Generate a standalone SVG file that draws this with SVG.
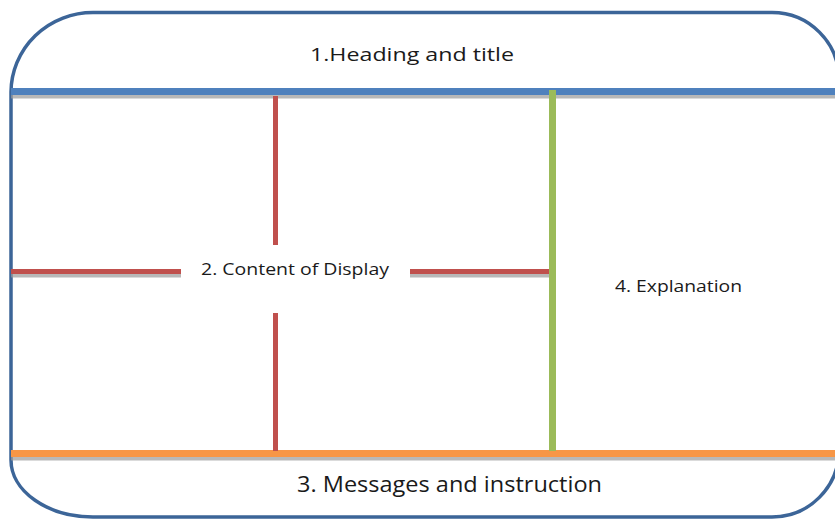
<svg xmlns="http://www.w3.org/2000/svg" width="835" height="520" viewBox="0 0 835 520">
<style>
.lbl{font-family:"Open Sans","Liberation Sans",sans-serif;fill:#1a1a1a;text-anchor:start}
.sh{stroke:#9a9a9a;stroke-opacity:0.7;fill:none}
.blue{stroke:#4f81bd;fill:none}
.orange{stroke:#f79646;fill:none}
.green{stroke:#9bbb59;fill:none}
.red{stroke:#c0504d;fill:none}
</style>
<rect width="835" height="520" fill="#ffffff"/>
<g id="frame">
<path d="M 93 12.5 H 772 A 67 67 0 0 1 839 79.5 V 450 A 67 67 0 0 1 772 517 H 93 A 82 57 0 0 1 11 460 V 92 A 82 80 0 0 1 93 12.5 Z" fill="none" stroke="#3c6598" stroke-width="3.5"/>
</g>
<g id="connectors">
<line class="sh" x1="11" y1="95" x2="835" y2="95" stroke-width="7"/>
<line class="blue" x1="11" y1="91.5" x2="835" y2="91.5" stroke-width="7"/>
<line class="sh" x1="11" y1="457" x2="835" y2="457" stroke-width="7"/>
<line class="orange" x1="11" y1="453.5" x2="835" y2="453.5" stroke-width="7"/>
<line class="sh" x1="11" y1="275" x2="181" y2="275" stroke-width="5"/>
<line class="red" x1="11" y1="271.5" x2="181" y2="271.5" stroke-width="5"/>
<line class="sh" x1="410" y1="275" x2="550" y2="275" stroke-width="5"/>
<line class="red" x1="410" y1="271.5" x2="550" y2="271.5" stroke-width="5"/>
<line class="red" x1="275.5" y1="96" x2="275.5" y2="245" stroke-width="5"/>
<line class="red" x1="275.5" y1="313" x2="275.5" y2="451" stroke-width="5"/>
<line class="green" x1="552.5" y1="90" x2="552.5" y2="451" stroke-width="7"/>
</g>
<g id="heading">
<text class="lbl" x="310" y="61" font-size="19" textLength="204" lengthAdjust="spacingAndGlyphs">1.Heading and title</text>
</g>
<g id="content">
<text class="lbl" x="201" y="275" font-size="16" textLength="188" lengthAdjust="spacingAndGlyphs">2. Content of Display</text>
</g>
<g id="explanation">
<text class="lbl" x="615" y="292" font-size="16" textLength="127" lengthAdjust="spacingAndGlyphs">4. Explanation</text>
</g>
<g id="messages">
<text class="lbl" x="297" y="492" font-size="21" textLength="305" lengthAdjust="spacingAndGlyphs">3. Messages and instruction</text>
</g>
</svg>
